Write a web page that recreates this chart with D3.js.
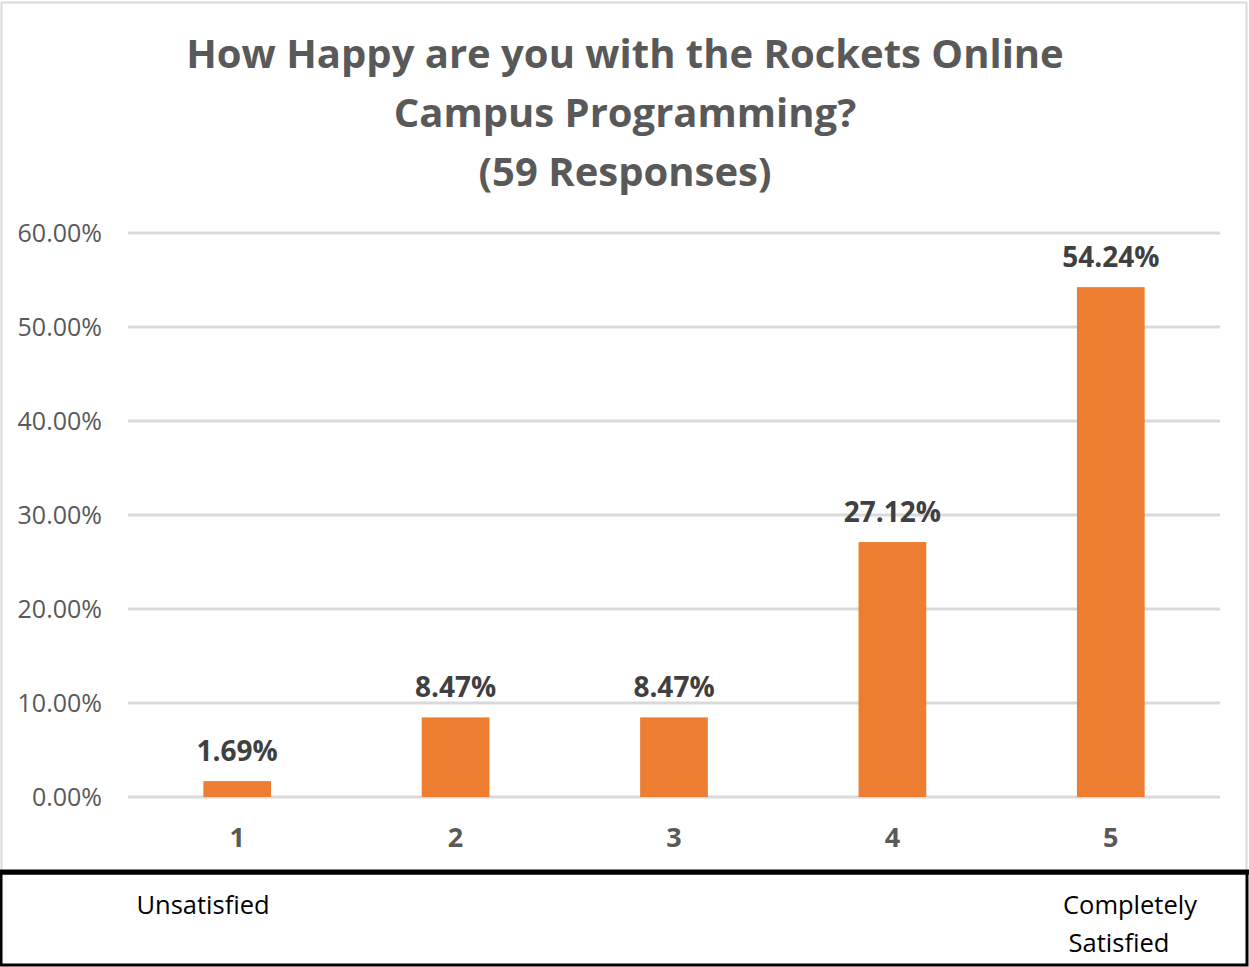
<!DOCTYPE html>
<html>
<head>
<meta charset="utf-8">
<script src="https://cdn.jsdelivr.net/npm/d3@7"></script>
<style>
  html, body { margin: 0; padding: 0; background: #fff; }
  svg { display: block; }
</style>
</head>
<body>
<script>
const categories = ["1", "2", "3", "4", "5"];
const values = [1.69, 8.47, 8.47, 27.12, 54.24];
const yTicks = [0, 10, 20, 30, 40, 50, 60];
const titleLines = ["How Happy are you with the Rockets Online", "Campus Programming?", "(59 Responses)"];

const W = 1249, H = 967;
const font = "'Open Sans', sans-serif";

const svg = d3.select('body').append('svg').attr('width', W).attr('height', H);

// chart frame
svg.append('rect')
  .attr('x', 1.5).attr('y', 2.5)
  .attr('width', 1245).attr('height', 870)
  .attr('fill', '#fff')
  .attr('stroke', '#d9d9d9')
  .attr('stroke-width', 2);

const x = d3.scaleBand().domain(categories).range([128, 1220]).paddingInner(0.69).paddingOuter(0.345);
const y = d3.scaleLinear().domain([0, 60]).range([797, 233]);

// gridlines
svg.append('g')
  .selectAll('line')
  .data(yTicks)
  .enter().append('line')
  .attr('x1', 128)
  .attr('x2', 1220)
  .attr('y1', d => y(d))
  .attr('y2', d => y(d))
  .attr('stroke', '#d9d9d9')
  .attr('stroke-width', 3);

// y labels
svg.append('g')
  .selectAll('text')
  .data(yTicks)
  .enter().append('text')
  .attr('x', 102)
  .attr('y', d => y(d) + 9)
  .attr('text-anchor', 'end')
  .attr('font-family', font)
  .attr('font-size', '25px')
  .attr('fill', '#595959')
  .text(d => d.toFixed(2) + '%');

// bars
svg.append('g')
  .selectAll('rect')
  .data(values)
  .enter().append('rect')
  .attr('x', (d, i) => x(categories[i]))
  .attr('y', d => y(d))
  .attr('width', x.bandwidth())
  .attr('height', d => y(0) - y(d))
  .attr('fill', '#ed7d31');

// data labels
svg.append('g')
  .selectAll('text')
  .data(values)
  .enter().append('text')
  .attr('x', (d, i) => x(categories[i]) + x.bandwidth() / 2)
  .attr('y', d => y(d) - 20)
  .attr('text-anchor', 'middle')
  .attr('font-family', font)
  .attr('font-weight', 'bold')
  .attr('font-size', '28px')
  .attr('fill', '#404040')
  .text(d => d.toFixed(2) + '%');

// x labels
svg.append('g')
  .selectAll('text')
  .data(categories)
  .enter().append('text')
  .attr('x', d => x(d) + x.bandwidth() / 2)
  .attr('y', 847)
  .attr('text-anchor', 'middle')
  .attr('font-family', font)
  .attr('font-weight', 'bold')
  .attr('font-size', '27px')
  .attr('fill', '#595959')
  .text(d => d);

// title
svg.append('text')
  .selectAll('tspan')
  .data(titleLines)
  .enter().append('tspan')
  .attr('x', 625)
  .attr('y', (d, i) => 68 + i * 59)
  .attr('text-anchor', 'middle')
  .attr('font-family', font)
  .attr('font-weight', 'bold')
  .attr('font-size', '40px')
  .attr('fill', '#595959')
  .text(d => d);

// bottom box
svg.append('rect')
  .attr('x', 1).attr('y', 873)
  .attr('width', 1246).attr('height', 92)
  .attr('fill', '#fff')
  .attr('stroke', '#000')
  .attr('stroke-width', 3);
svg.append('line')
  .attr('x1', 0).attr('x2', W)
  .attr('y1', 872).attr('y2', 872)
  .attr('stroke', '#000')
  .attr('stroke-width', 5);

svg.append('text')
  .attr('x', 203).attr('y', 914)
  .attr('text-anchor', 'middle')
  .attr('font-family', font)
  .attr('font-size', '25.5px')
  .attr('fill', '#000')
  .text('Unsatisfied');

svg.append('text')
  .selectAll('tspan')
  .data(['Completely', 'Satisfied'])
  .enter().append('tspan')
  .attr('x', (d, i) => i === 0 ? 1130 : 1119)
  .attr('y', (d, i) => 914 + i * 38)
  .attr('text-anchor', 'middle')
  .attr('font-family', font)
  .attr('font-size', '25.5px')
  .attr('fill', '#000')
  .text(d => d);
</script>
</body>
</html>
